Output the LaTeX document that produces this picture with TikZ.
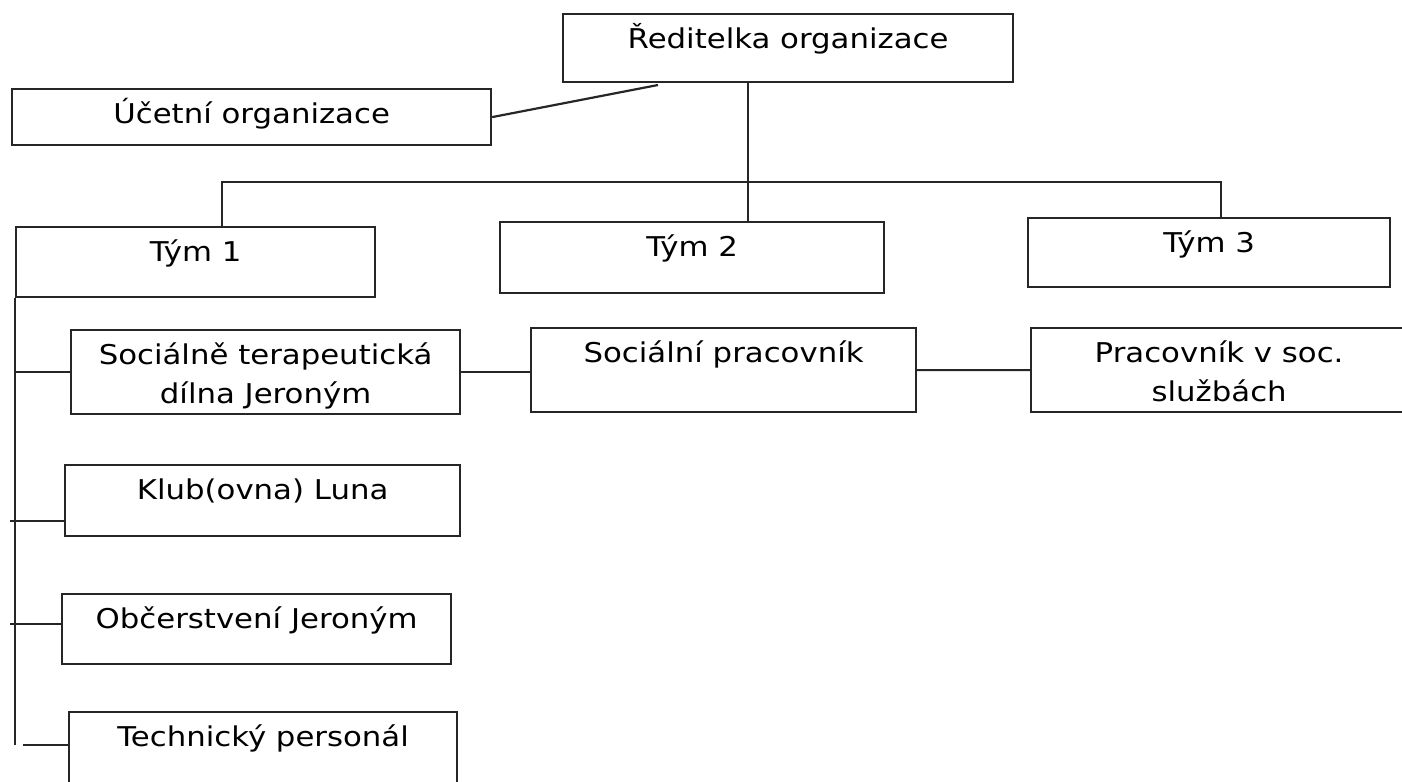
\documentclass[tikz,border=0pt]{standalone}
\usepackage{fontspec}
\setmainfont{DejaVu Sans}[FakeStretch=1.13]
\usepackage{tikz}
\usetikzlibrary{positioning, calc}

\begin{document}
\begin{tikzpicture}[
    line width=1.25pt,
    box/.style = {
        rectangle, draw=black!85, line width=1.25pt,
        inner sep=0pt, align=center, anchor=north west,
        text height=0.68cm, text depth=#1,
        font=\fontsize{15.5}{22}\selectfont
    },
    box/.default=0.7cm,
    twoline/.style = {text height=1.46cm, text depth=0.22cm},
    conn/.style = {draw=black!85, line width=1.25pt},
]
\useasboundingbox (0,0) rectangle (28.04,-15.62);

% Top
\node[box=0.68cm, minimum width=9.0cm] (red) at (11.24,-0.26) {Ředitelka organizace};
\node[box=0.44cm, minimum width=9.58cm] (ucet) at (0.22,-1.76) {Účetní organizace};

% Teams
\node[box=0.72cm, minimum width=7.18cm] (tym1) at (0.30,-4.52) {Tým 1};
\node[box=0.74cm, minimum width=7.68cm] (tym2) at (9.98,-4.42) {Tým 2};
\node[box=0.70cm, minimum width=7.24cm] (tym3) at (20.54,-4.34) {Tým 3};

% Workplaces
\node[box, twoline, minimum width=7.78cm] (dilna) at (1.40,-6.58)
    {Sociálně terapeutická\\dílna Jeroným};
\node[box=1.0cm, minimum width=7.70cm] (socprac) at (10.60,-6.54) {Sociální pracovník};
\node[box, twoline, minimum width=7.52cm] (pracsl) at (20.60,-6.54)
    {Pracovník v soc.\\službách};
\node[box=0.74cm, minimum width=7.90cm] (klub) at (1.28,-9.28) {Klub(ovna) Luna};
\node[box=0.72cm, minimum width=7.78cm] (obc) at (1.22,-11.86) {Občerstvení Jeroným};
\node[box=1.0cm, minimum width=7.76cm] (tech) at (1.36,-14.22) {Technický personál};

% Helper points
\coordinate (hub) at (14.96,-3.64);
\coordinate (redL) at (13.16,-1.70);
\coordinate (spine) at (0.30,-14.90);
\coordinate (tickL) at (0.20,0);
\coordinate (techL) at (0.46,0);

% Connectors
\draw[conn] (ucet.east) -- (redL);
\draw[conn] (hub |- red.south) -- (hub |- tym2.north);
\draw[conn] ([xshift=4.14cm]tym1.north west) |- (hub) -| ([xshift=3.88cm]tym3.north west);
\draw[conn] (tym1.south west) -- (spine);
\draw[conn] (dilna.west -| tym1.west) -- (dilna.west);
\draw[conn] ([yshift=-0.41cm]klub.west -| tickL) -- ([yshift=-0.41cm]klub.west);
\draw[conn] ([yshift=0.10cm]obc.west -| tickL) -- ([yshift=0.10cm]obc.west);
\draw[conn] ([yshift=-0.68cm]tech.north west -| techL) -- ([yshift=-0.68cm]tech.north west);
\draw[conn] (dilna.east) -- (dilna.east -| socprac.west);
\draw[conn] (socprac.east) -- (pracsl.west);

\end{tikzpicture}
\end{document}
